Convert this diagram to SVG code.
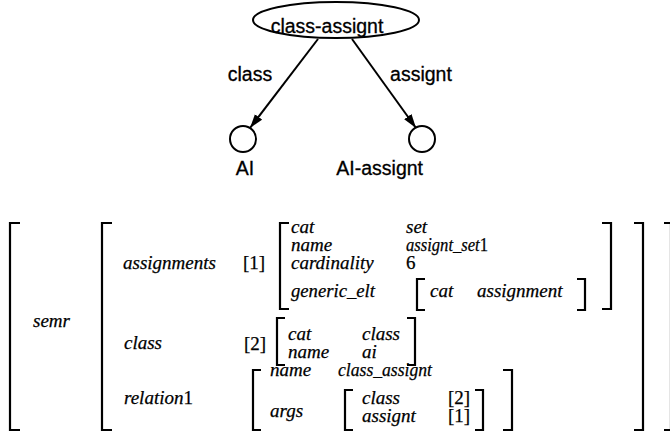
<svg xmlns="http://www.w3.org/2000/svg" width="670" height="436" viewBox="0 0 670 436">
<defs>
<marker id="arr" markerUnits="userSpaceOnUse" markerWidth="15" markerHeight="10" refX="14" refY="5" orient="auto">
<path d="M0,0.5 L14,5 L0,9.5 Z" fill="#000"/>
</marker>
<style>
.sans{font-family:"Liberation Sans",Arial,sans-serif;font-size:19.5px;fill:#000;stroke:#000;stroke-width:0.3}
.it{font-family:"Liberation Serif","Times New Roman",serif;font-style:italic;font-size:19px;fill:#000;stroke:#000;stroke-width:0.25}
.rm{font-family:"Liberation Serif","Times New Roman",serif;font-size:19px;fill:#000;stroke:#000;stroke-width:0.25}
.up{font-style:normal}
.br{fill:none;stroke:#000;stroke-width:2.2}
.edge{fill:none;stroke:#000;stroke-width:2}
.node{fill:#fff;stroke:#000;stroke-width:2}
</style>
</defs>
<rect width="670" height="436" fill="#fff"/>
<g id="edges">
<line class="edge" x1="318" y1="39" x2="250" y2="128" marker-end="url(#arr)"/>
<text class="sans" x="250" y="81" text-anchor="middle">class</text>
<line class="edge" x1="352" y1="39" x2="416" y2="128" marker-end="url(#arr)"/>
<text class="sans" x="421" y="81" text-anchor="middle">assignt</text>
</g>
<g id="node-class-assignt">
<ellipse class="node" cx="336" cy="20" rx="83" ry="18"/>
<text class="sans" x="327" y="33" text-anchor="middle">class-assignt</text>
</g>
<g id="node-AI">
<circle class="node" cx="243" cy="139" r="13"/>
<text class="sans" x="245" y="175" text-anchor="middle">AI</text>
</g>
<g id="node-AI-assignt">
<circle class="node" cx="422" cy="139" r="13"/>
<text class="sans" x="423" y="175" text-anchor="end">AI-assignt</text>
</g>
<g id="avm">
<path class="br" d="M20,223 H10 V430 H20"/>
<text class="it" x="33" y="327">semr</text>
<path class="br" d="M112,223 H102 V430 H112"/>
<text class="it" x="123" y="269">assignments</text>
<text class="rm" x="243" y="269">[1]</text>
<path class="br" d="M289,223 H280 V309 H289"/>
<text class="it" x="291" y="233">cat</text>
<text class="it" x="406" y="233">set</text>
<text class="it" x="291" y="251">name</text>
<text class="it" x="406" y="251" textLength="82" lengthAdjust="spacingAndGlyphs">assignt_set<tspan class="up">1</tspan></text>
<text class="it" x="291" y="269">cardinality</text>
<text class="rm" x="406" y="269">6</text>
<text class="it" x="291" y="297" textLength="84" lengthAdjust="spacingAndGlyphs">generic_elt</text>
<path class="br" d="M425,279 H417 V310 H425"/>
<text class="it" x="430" y="297">cat</text>
<text class="it" x="477" y="297">assignment</text>
<path class="br" d="M577,279 H585 V310 H577"/>
<path class="br" d="M602,223 H611 V309 H602"/>
<text class="it" x="124" y="349">class</text>
<text class="rm" x="244" y="350">[2]</text>
<path class="br" d="M285,318 H277 V365 H285"/>
<text class="it" x="288" y="340">cat</text>
<text class="it" x="362" y="340">class</text>
<text class="it" x="288" y="358">name</text>
<text class="it" x="362" y="358">ai</text>
<path class="br" d="M407,318 H415 V365 H407"/>
<text class="it" x="124" y="404">relation<tspan class="up">1</tspan></text>
<path class="br" d="M261,370 H253 V430 H261"/>
<text class="it" x="270" y="376">name</text>
<text class="it" x="338" y="376" textLength="94" lengthAdjust="spacingAndGlyphs">class_assignt</text>
<text class="it" x="270" y="417">args</text>
<path class="br" d="M353,390 H345 V430 H353"/>
<text class="it" x="362" y="404">class</text>
<text class="rm" x="448" y="404">[2]</text>
<text class="it" x="362" y="422">assignt</text>
<text class="rm" x="448" y="422">[1]</text>
<path class="br" d="M475,390 H483 V430 H475"/>
<path class="br" d="M503,370 H512 V430 H503"/>
<path class="br" d="M634,223 H643 V430 H634"/>
<path class="br" d="M664,223 H671 V430 H664"/>
</g>
</svg>
